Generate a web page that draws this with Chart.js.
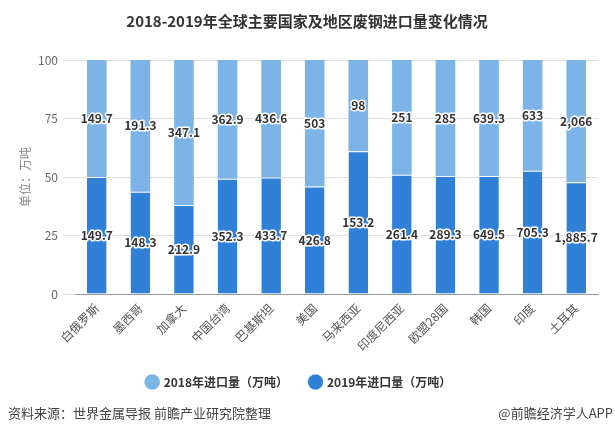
<!DOCTYPE html>
<html>
<head>
<meta charset="utf-8">
<script src="https://cdn.jsdelivr.net/npm/chart.js@4.4.1/dist/chart.umd.min.js"></script>
<style>
  html, body { margin: 0; padding: 0; background: #fff; }
  #wrap { width: 615px; height: 437px; position: relative; }
</style>
</head>
<body>
<div id="wrap"><canvas id="chart" width="615" height="437"></canvas></div>
<script>
const FONT = '"Noto Sans CJK SC", "Noto Sans", sans-serif'

const categories = ['白俄罗斯', '墨西哥', '加拿大', '中国台湾', '巴基斯坦', '美国', '马来西亚', '印度尼西亚', '欧盟28国', '韩国', '印度', '土耳其']
const imports2018 = [149.7, 191.3, 347.1, 362.9, 436.6, 503, 98, 251, 285, 639.3, 633, 2066]
const imports2019 = [149.7, 148.3, 212.9, 352.3, 433.7, 426.8, 153.2, 261.4, 289.3, 649.5, 705.3, 1885.7]
const yTicks = [0, 25, 50, 75, 100]

// bars are shares of the two-year total, labels show the raw tonnage
const share2019 = imports2019.map((v, i) => (v / (v + imports2018[i])) * 100)
const share2018 = imports2018.map((v, i) => (v / (v + imports2019[i])) * 100)

const LIGHT = '#7db4e7'
const DARK = '#2f80d6'

const valueLabels = {
  id: 'valueLabels',
  afterDatasetsDraw(chart) {
    const ctx = chart.ctx
    ctx.save()
    ctx.font = 'bold 12px ' + FONT
    ctx.textAlign = 'center'
    ctx.textBaseline = 'middle'
    ctx.lineJoin = 'round'
    chart.data.datasets.forEach((ds, di) => {
      const meta = chart.getDatasetMeta(di)
      meta.data.forEach((bar, i) => {
        const text = ds.raw[i].toLocaleString('en-US')
        const y = (bar.y + bar.base) / 2
        ctx.lineWidth = 3
        ctx.strokeStyle = '#fff'
        ctx.strokeText(text, bar.x, y)
        ctx.fillStyle = '#333'
        ctx.fillText(text, bar.x, y)
      })
    })
    ctx.restore()
  },
}

const titleAndFooter = {
  id: 'titleAndFooter',
  afterDraw(chart) {
    const ctx = chart.ctx
    ctx.save()
    ctx.fillStyle = '#333'
    ctx.textBaseline = 'middle'
    ctx.font = 'bold 15px ' + FONT
    ctx.textAlign = 'center'
    ctx.fillText('2018-2019年全球主要国家及地区废钢进口量变化情况', 307, 21)
    ctx.font = '13px ' + FONT
    ctx.fillStyle = '#444'
    ctx.textAlign = 'left'
    ctx.fillText('资料来源：世界金属导报 前瞻产业研究院整理', 8, 413)
    ctx.textAlign = 'right'
    ctx.fillText('@前瞻经济学人APP', 613, 413)
    ctx.restore()
  },
}

new Chart(document.getElementById('chart'), {
  type: 'bar',
  data: {
    labels: categories,
    datasets: [
      {
        label: '2019年进口量（万吨）',
        data: share2019,
        raw: imports2019,
        backgroundColor: DARK,
        borderColor: '#fff',
        borderWidth: { top: 1 },
        borderSkipped: false,
      },
      {
        label: '2018年进口量（万吨）',
        data: share2018,
        raw: imports2018,
        backgroundColor: LIGHT,
        borderWidth: 0,
      },
    ],
  },
  options: {
    responsive: false,
    animation: false,
    maintainAspectRatio: false,
    layout: { padding: { top: 60, left: 0, right: 17, bottom: 39 } },
    datasets: { bar: { barPercentage: 0.45, categoryPercentage: 1 } },
    plugins: {
      legend: {
        position: 'bottom',
        reverse: true,
        labels: {
          usePointStyle: true,
          pointStyle: 'circle',
          boxWidth: 11,
          boxHeight: 11,
          padding: 22,
          color: '#333',
          font: { family: FONT, size: 12, weight: 'bold' },
        },
      },
      tooltip: { enabled: false },
    },
    scales: {
      x: {
        stacked: true,
        afterFit: (axis) => { axis.height = 60 },
        grid: { display: false, drawTicks: true, tickLength: 5, color: '#999' },
        border: { color: '#999' },
        ticks: {
          color: '#555',
          font: { family: FONT, size: 12 },
          maxRotation: 45,
          minRotation: 45,
          padding: 2,
        },
      },
      y: {
        stacked: true,
        min: 0,
        max: 100,
        afterFit: (axis) => { axis.width = 75 },
        afterBuildTicks: (axis) => { axis.ticks = yTicks.map((v) => ({ value: v })) },
        grid: { color: '#ddd', tickLength: 12 },
        border: { display: false },
        ticks: { color: '#666', font: { family: FONT, size: 12 }, padding: 5 },
        title: {
          display: true,
          text: '单位：万吨',
          color: '#888',
          font: { family: FONT, size: 12 },
          padding: { top: 18, bottom: 0 },
        },
      },
    },
  },
  plugins: [valueLabels, titleAndFooter],
})
</script>
</body>
</html>
